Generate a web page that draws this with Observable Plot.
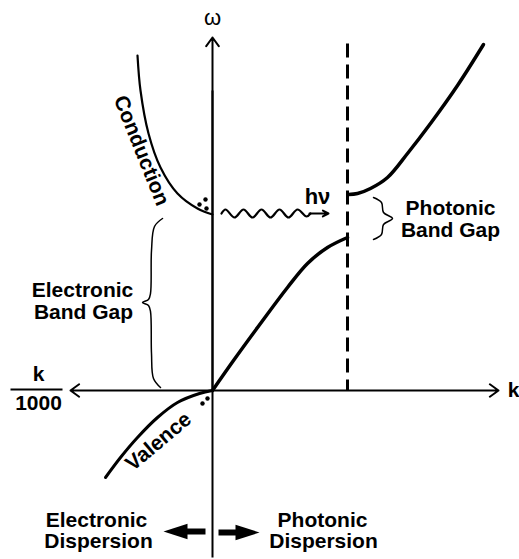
<!DOCTYPE html>
<html><head><meta charset="utf-8">
<script src="https://cdn.jsdelivr.net/npm/d3@7"></script>
<script src="https://cdn.jsdelivr.net/npm/@observablehq/plot@0.6"></script>
<style>body{margin:0;background:#fff}#chart svg{display:block}</style>
</head><body><div id="chart"></div>
<script>
// Dispersion diagram, values in (k, ω) units with the origin at the axes crossing
const conductionK = [-75, -72, -64, -52, -35, -15, 0];
const conductionW = [335, 300, 257, 223, 197, 182, 176];
const valenceK = [0, -13, -35, -55, -75, -92, -107];
const valenceW = [0, -3, -12, -27, -47, -67, -87];
const photonLowK = [0, 21, 48, 75, 95, 115, 135];
const photonLowW = [0, 30, 67, 103, 127, 143, 153];
const photonUpK = [136, 145, 158, 175, 195, 218, 245, 271];
const photonUpW = [196, 197, 202, 213, 237, 267, 305, 346];
const zoneEdgeK = 135, zoneEdgeTop = 347;
const waveK = [9, 13, 22, 31, 40, 49, 58, 67, 76, 85, 94, 98];
const waveW = [177, 181, 173, 181, 173, 181, 173, 181, 173, 181, 174, 177];
const eBraceK = [-50, -58, -61, -62, -64, -70, -64, -62, -61, -59, -52];
const eBraceW = [172, 164, 140, 97, 91, 88, 85, 79, 37, 12, 3];
const pBraceK = [161, 169, 171, 180, 171, 169, 161];
const pBraceW = [193, 188, 178, 172, 166, 156, 151];
const condDotsK = [-13, -7, -6], condDotsW = [186, 191, 182];
const valDotsK = [-10, -5], valDotsW = [-13, -8];
const labels = ["Electronic", "Band Gap", "Photonic", "Band Gap", "Electronic", "Dispersion", "Photonic", "Dispersion"];

const pts = (ks, ws) => ks.map((k, i) => ({k, w: ws[i]}));
const FONT = "'Liberation Sans', Arial, Helvetica, sans-serif";

const headRight = {draw(ctx, size) { const r = Math.sqrt(size / Math.PI); ctx.moveTo(r, 0); ctx.lineTo(-r, -0.65 * r); ctx.lineTo(-r, 0.65 * r); ctx.closePath(); }};
const headLeft = {draw(ctx, size) { const r = Math.sqrt(size / Math.PI); ctx.moveTo(-r, 0); ctx.lineTo(r, -0.65 * r); ctx.lineTo(r, 0.65 * r); ctx.closePath(); }};

const line = (ks, ws, sw) => Plot.line(pts(ks, ws), {x: "k", y: "w", stroke: "black", strokeWidth: sw, curve: "catmull-rom", strokeLinecap: "round"});

const txt = (data, opts) => Plot.text(data, {x: "k", y: "w", text: "t", fill: "black", fontSize: 21, fontWeight: "bold", ...opts});

const chart = Plot.plot({
  width: 519, height: 559, margin: 0,
  style: {fontFamily: FONT, background: "white"},
  x: {domain: [-212, 307], axis: null},
  y: {domain: [-169, 390], axis: null},
  marks: [
    // axes
    Plot.link([{x1: 0, y1: -167, x2: 0, y2: 300}], {x1: "x1", y1: "y1", x2: "x2", y2: "y2", stroke: "black", strokeWidth: 2}),
    Plot.arrow([{x1: 0, y1: 0, x2: 0, y2: 353}], {x1: "x1", y1: "y1", x2: "x2", y2: "y2", stroke: "black", strokeWidth: 2, headLength: 8, headAngle: 72}),
    Plot.arrow([{x1: 0, y1: 0, x2: 286, y2: 0}, {x1: 0, y1: 0, x2: -142, y2: 0}], {x1: "x1", y1: "y1", x2: "x2", y2: "y2", stroke: "black", strokeWidth: 2, headLength: 8, headAngle: 72}),
    // zone edge
    Plot.link([{x1: zoneEdgeK, y1: zoneEdgeTop, x2: zoneEdgeK, y2: 0}], {x1: "x1", y1: "y1", x2: "x2", y2: "y2", stroke: "black", strokeWidth: 3, strokeDasharray: "14,7"}),
    // bands
    line(conductionK, conductionW, 2.2),
    line(valenceK, valenceW, 3),
    line(photonLowK, photonLowW, 3.5),
    line(photonUpK, photonUpW, 3.5),
    // braces
    line(eBraceK, eBraceW, 1.5),
    line(pBraceK, pBraceW, 1.5),
    // photon wave
    line(waveK, waveW, 2.2),
    Plot.arrow([{x1: 97, y1: 177, x2: 116, y2: 177}], {x1: "x1", y1: "y1", x2: "x2", y2: "y2", stroke: "black", strokeWidth: 2, headLength: 5, headAngle: 55}),
    // carriers
    Plot.dot(pts(condDotsK, condDotsW), {x: "k", y: "w", r: 2.2, fill: "black"}),
    Plot.dot(pts(valDotsK, valDotsW), {x: "k", y: "w", r: 2.2, fill: "black"}),
    // bottom arrows
    Plot.link([{x1: -7, y1: -141, x2: -27, y2: -141}, {x1: 6, y1: -142, x2: 25, y2: -142}], {x1: "x1", y1: "y1", x2: "x2", y2: "y2", stroke: "black", strokeWidth: 6}),
    Plot.dot([{k: -37, w: -141}], {x: "k", y: "w", r: 12, symbol: headLeft, fill: "black", stroke: "none"}),
    Plot.dot([{k: 35, w: -142}], {x: "k", y: "w", r: 12, symbol: headRight, fill: "black", stroke: "none"}),
    // k / 1000
    Plot.link([{x1: -202, y1: 1, x2: -150, y2: 1}], {x1: "x1", y1: "y1", x2: "x2", y2: "y2", stroke: "black", strokeWidth: 2}),
    txt([{t: "k", k: -174, w: 16}, {t: "1000", k: -174, w: -13}], {}),
    txt([{t: "k", k: 301, w: 0}], {}),
    txt([{t: "ω", k: 0, w: 373}], {fontWeight: "normal", fontSize: 22}),
    txt([{t: "hν", k: 105, w: 194}], {fontSize: 22}),
    txt([{t: "Conduction", k: -71, w: 240}], {rotate: 68}),
    txt([{t: "Valence", k: -54, w: -51}], {rotate: -40}),
    txt([
      {t: labels[0], k: -130, w: 100}, {t: labels[1], k: -129, w: 78},
      {t: labels[2], k: 238, w: 182}, {t: labels[3], k: 238, w: 160},
      {t: labels[4], k: -116, w: -130}, {t: labels[5], k: -114, w: -151},
      {t: labels[6], k: 110, w: -130}, {t: labels[7], k: 111, w: -151}
    ], {})
  ]
});
document.getElementById("chart").appendChild(chart);
</script>
</body></html>
